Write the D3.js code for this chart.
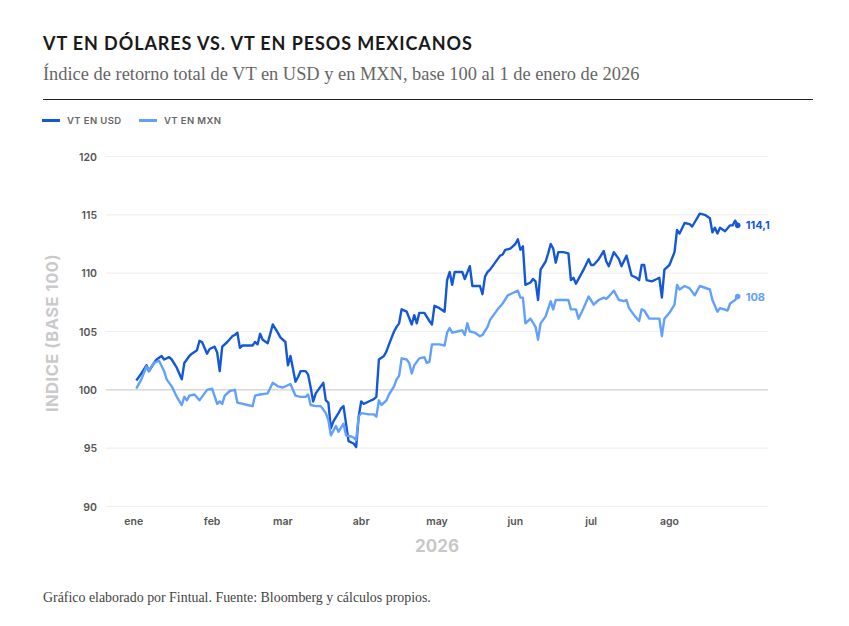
<!DOCTYPE html>
<html><head><meta charset="utf-8">
<script src="https://cdn.jsdelivr.net/npm/d3@7"></script>
<style>
body{margin:0;background:#fff;}
svg{display:block;}
</style></head>
<body><svg id="chart" width="849" height="626"></svg>
<script>
const monthLabels = ["ene","feb","mar","abr","may","jun","jul","ago"];
const yTicks = [90,95,100,105,110,115,120];

const usdDates = ["2026-01-02","2026-01-04","2026-01-06","2026-01-07","2026-01-09","2026-01-10","2026-01-12","2026-01-13","2026-01-15","2026-01-16","2026-01-18","2026-01-20","2026-01-21","2026-01-23","2026-01-24","2026-01-26","2026-01-27","2026-01-28","2026-01-30","2026-01-31",
"2026-02-02","2026-02-03","2026-02-04","2026-02-05","2026-02-07","2026-02-09","2026-02-10","2026-02-11","2026-02-12","2026-02-13","2026-02-15","2026-02-17","2026-02-18","2026-02-19","2026-02-20","2026-02-21","2026-02-23","2026-02-24","2026-02-25","2026-02-27","2026-02-28",
"2026-03-02","2026-03-03","2026-03-04","2026-03-06","2026-03-07","2026-03-08","2026-03-10","2026-03-11","2026-03-12","2026-03-13","2026-03-14","2026-03-16","2026-03-17","2026-03-18","2026-03-19","2026-03-20","2026-03-21","2026-03-23","2026-03-24","2026-03-25","2026-03-26","2026-03-27","2026-03-29","2026-03-30","2026-03-31",
"2026-04-01","2026-04-02","2026-04-04","2026-04-06","2026-04-07","2026-04-08","2026-04-10","2026-04-11","2026-04-12","2026-04-14","2026-04-15","2026-04-16","2026-04-17","2026-04-19","2026-04-21","2026-04-22","2026-04-23","2026-04-24","2026-04-26","2026-04-28","2026-04-29","2026-04-30",
"2026-05-02","2026-05-04","2026-05-05","2026-05-06","2026-05-07","2026-05-08","2026-05-11","2026-05-12","2026-05-14","2026-05-15","2026-05-18","2026-05-19","2026-05-20","2026-05-21","2026-05-22","2026-05-24","2026-05-26","2026-05-27","2026-05-28","2026-05-30","2026-05-31",
"2026-06-01","2026-06-02","2026-06-03","2026-06-04","2026-06-05","2026-06-07","2026-06-08","2026-06-09","2026-06-10","2026-06-11","2026-06-13","2026-06-14","2026-06-15","2026-06-16","2026-06-17","2026-06-18","2026-06-20","2026-06-22","2026-06-23","2026-06-24","2026-06-25","2026-06-27","2026-06-28","2026-06-30",
"2026-07-01","2026-07-02","2026-07-04","2026-07-06","2026-07-07","2026-07-08","2026-07-10","2026-07-12","2026-07-13","2026-07-15","2026-07-17","2026-07-19","2026-07-20","2026-07-21","2026-07-22","2026-07-23","2026-07-25","2026-07-27","2026-07-28","2026-07-29","2026-07-30",
"2026-08-01","2026-08-03","2026-08-04","2026-08-05","2026-08-07","2026-08-09","2026-08-10","2026-08-13","2026-08-15","2026-08-17","2026-08-18","2026-08-19","2026-08-20","2026-08-21","2026-08-23","2026-08-25","2026-08-26","2026-08-27","2026-08-28"];
const usdValues = [100.8,101.4,102.1,101.6,102.3,102.6,102.9,102.6,102.8,102.6,101.9,100.9,102.3,102.9,103.1,103.4,104.2,104.1,103.1,103.5,
103.7,103.2,101.6,103.7,104.1,104.6,104.7,104.9,103.6,103.8,103.8,103.8,104.1,103.9,104.8,104.3,104.0,104.8,105.6,104.9,104.5,
104.1,102.1,102.9,100.7,101.1,101.6,101.6,101.3,100.2,99.0,99.7,100.3,100.6,99.1,98.9,96.7,97.3,98.0,98.4,98.6,97.1,95.6,95.4,95.1,97.7,
99.0,98.8,99.0,99.2,99.4,102.6,102.9,103.3,103.9,105.0,105.4,105.7,106.9,106.7,105.6,106.4,105.7,106.6,106.6,105.9,105.6,107.2,
107.0,106.7,109.4,110.1,109.0,110.1,110.1,109.5,110.6,108.9,108.9,108.2,109.7,110.1,110.3,110.9,111.5,111.6,112.0,112.1,112.3,
112.5,112.9,112.0,112.3,109.0,109.2,109.5,109.3,107.7,110.3,111.0,111.7,112.5,112.1,110.9,111.8,111.8,111.7,109.4,109.6,109.1,109.9,110.3,111.2,
110.7,110.7,111.2,111.9,111.0,110.6,111.8,111.2,110.6,111.5,109.8,109.6,109.4,110.7,110.7,109.4,109.3,109.5,109.6,107.9,110.3,
110.7,111.8,113.7,113.4,114.3,114.2,114.0,115.1,115.0,114.7,113.5,113.9,113.4,113.9,113.6,114.1,114.1,114.5,114.1];

const mxnDates = ["2026-01-02","2026-01-04","2026-01-06","2026-01-07","2026-01-08","2026-01-09","2026-01-11","2026-01-13","2026-01-14","2026-01-16","2026-01-18","2026-01-20","2026-01-21","2026-01-22","2026-01-23","2026-01-25","2026-01-27","2026-01-28","2026-01-30",
"2026-02-01","2026-02-03","2026-02-04","2026-02-05","2026-02-06","2026-02-08","2026-02-10","2026-02-11","2026-02-15","2026-02-17","2026-02-18","2026-02-20","2026-02-23","2026-02-25","2026-02-27",
"2026-03-01","2026-03-04","2026-03-06","2026-03-08","2026-03-10","2026-03-11","2026-03-12","2026-03-14","2026-03-16","2026-03-18","2026-03-19","2026-03-20","2026-03-22","2026-03-23","2026-03-25","2026-03-26","2026-03-28","2026-03-29","2026-03-30","2026-03-31",
"2026-04-01","2026-04-04","2026-04-06","2026-04-07","2026-04-08","2026-04-09","2026-04-11","2026-04-12","2026-04-14","2026-04-15","2026-04-16","2026-04-17","2026-04-19","2026-04-20","2026-04-21","2026-04-22","2026-04-23","2026-04-24","2026-04-26","2026-04-27","2026-04-28","2026-04-29",
"2026-05-02","2026-05-04","2026-05-05","2026-05-06","2026-05-07","2026-05-09","2026-05-11","2026-05-12","2026-05-13","2026-05-14","2026-05-16","2026-05-18","2026-05-19","2026-05-21","2026-05-22","2026-05-23","2026-05-25","2026-05-27","2026-05-29","2026-05-31",
"2026-06-02","2026-06-03","2026-06-04","2026-06-05","2026-06-06","2026-06-07","2026-06-09","2026-06-10","2026-06-11","2026-06-13","2026-06-15","2026-06-16","2026-06-17","2026-06-22","2026-06-23","2026-06-25","2026-06-26","2026-06-28","2026-06-30",
"2026-07-02","2026-07-04","2026-07-06","2026-07-07","2026-07-08","2026-07-10","2026-07-11","2026-07-12","2026-07-14","2026-07-15","2026-07-16","2026-07-18","2026-07-20","2026-07-21","2026-07-22","2026-07-24","2026-07-27","2026-07-28","2026-07-29","2026-07-30",
"2026-08-01","2026-08-03","2026-08-04","2026-08-05","2026-08-07","2026-08-09","2026-08-11","2026-08-13","2026-08-17","2026-08-18","2026-08-20","2026-08-21","2026-08-24","2026-08-25","2026-08-27","2026-08-28"];
const mxnValues = [100.1,100.9,102.0,101.6,102.0,102.3,102.5,101.6,100.9,100.3,99.4,98.7,99.4,99.1,99.5,99.6,99.1,99.4,100.0,
100.1,98.8,99.0,98.8,99.5,99.9,100.0,98.9,98.7,98.6,99.5,99.6,99.7,100.6,100.3,
100.2,100.5,99.5,99.4,99.4,99.6,98.7,98.6,98.6,98.0,97.4,96.1,96.9,96.4,97.1,96.1,96.0,95.9,95.7,97.7,
98.0,97.9,97.9,97.7,99.1,98.7,99.1,99.6,100.3,100.9,101.2,102.7,102.6,102.3,101.4,102.1,102.4,102.7,102.8,102.3,102.4,103.9,
103.9,103.8,104.9,105.3,104.9,105.0,105.1,104.7,105.7,105.0,104.9,104.6,104.7,105.4,106.0,106.3,106.9,107.4,108.1,108.3,
108.5,107.9,107.9,105.7,105.9,106.1,105.4,104.3,105.7,106.3,107.6,106.9,107.7,107.7,106.9,106.9,106.1,107.0,108.0,
107.3,107.7,107.9,107.8,108.0,108.5,108.1,107.7,107.6,107.7,107.0,106.4,105.9,106.9,106.8,106.1,106.1,106.1,104.6,106.1,
106.6,107.3,109.0,108.6,108.9,108.7,108.1,108.9,108.6,107.7,106.7,107.0,106.8,107.4,107.7,108.0];

const seriesNames = ["VT EN USD","VT EN MXN"];
const seriesColors = ["#1558d6","#62a1fb"];

const parse = d3.utcParse("%Y-%m-%d");
const series = [
  {name: seriesNames[0], color: seriesColors[0], data: usdDates.map((d,i)=>({date: parse(d), value: usdValues[i]}))},
  {name: seriesNames[1], color: seriesColors[1], data: mxnDates.map((d,i)=>({date: parse(d), value: mxnValues[i]}))}
];

const svg = d3.select("#chart");
const x = d3.scaleUtc().domain([Date.UTC(2025,11,21), Date.UTC(2026,8,9)]).range([106, 768]);
const y = d3.scaleLinear().domain([90,120]).range([506.5,156.5]);

// Title
svg.append("text").attr("x",43).attr("y",50)
  .attr("font-family","Lato, 'Open Sans', sans-serif").attr("font-weight",700).attr("font-size",18)
  .attr("letter-spacing","0.9px").attr("fill","#1a1a1a")
  .text("VT EN DÓLARES VS. VT EN PESOS MEXICANOS");
svg.append("text").attr("x",43).attr("y",80)
  .attr("font-family","'Liberation Serif', 'DejaVu Serif', serif").attr("font-size",18.4)
  .attr("fill","#666")
  .text("Índice de retorno total de VT en USD y en MXN, base 100 al 1 de enero de 2026");
svg.append("line").attr("x1",43).attr("x2",813).attr("y1",99.5).attr("y2",99.5)
  .attr("stroke","#222").attr("stroke-width",1);

// Legend
const legend = svg.append("g");
const legendX = [42, 139];
series.forEach((s,i)=>{
  legend.append("line").attr("x1",legendX[i]).attr("x2",legendX[i]+18).attr("y1",120.5).attr("y2",120.5)
    .attr("stroke",s.color).attr("stroke-width",3);
  legend.append("text").attr("x",legendX[i]+25).attr("y",124)
    .attr("font-family","Inter, Lato, sans-serif").attr("font-weight",600).attr("font-size",9.5)
    .attr("letter-spacing","0.4px").attr("fill","#666").text(s.name);
});

// Grid + y labels
const yAxis = svg.append("g");
yTicks.forEach(t=>{
  yAxis.append("line").attr("x1",106).attr("x2",768).attr("y1",y(t)).attr("y2",y(t))
    .attr("stroke", t===100 ? "#cfcfcf" : "#efefef").attr("stroke-width", t===100 ? 1.3 : 1.2);
  yAxis.append("text").attr("x",97).attr("y",y(t)+4).attr("text-anchor","end")
    .attr("font-family","Inter, Lato, sans-serif").attr("font-weight",600).attr("font-size",10.5)
    .attr("fill","#555").text(t);
});

// X labels
const months = d3.utcMonths(Date.UTC(2026,0,1), Date.UTC(2026,8,1));
months.forEach((m,i)=>{
  svg.append("text").attr("x",x(m)).attr("y",525).attr("text-anchor","middle")
    .attr("font-family","Inter, Lato, sans-serif").attr("font-weight",600).attr("font-size",10.5)
    .attr("fill","#555").text(monthLabels[i]);
});

// axis titles
svg.append("text").attr("x",437).attr("y",552).attr("text-anchor","middle")
  .attr("font-family","Inter, Lato, sans-serif").attr("font-weight",700).attr("font-size",17)
  .attr("fill","#c8c8c8").text("2026");
svg.append("text").attr("transform","translate(58,333) rotate(-90)").attr("text-anchor","middle")
  .attr("font-family","Inter, Lato, sans-serif").attr("font-weight",700).attr("font-size",16.5)
  .attr("letter-spacing","0.5px").attr("fill","#cacaca").text("INDICE (BASE 100)");

// Lines
const line = d3.line().x(d=>x(d.date)).y(d=>y(d.value));
const fmt = v => d3.format(".1f")(v).replace(/\.0$/,"").replace(".",",");
series.forEach(s=>{
  svg.append("path").datum(s.data).attr("d",line).attr("fill","none")
    .attr("stroke",s.color).attr("stroke-width",2.4).attr("stroke-linejoin","round");
  const last = s.data[s.data.length-1];
  svg.append("circle").attr("cx",x(last.date)).attr("cy",y(last.value)).attr("r",2.8).attr("fill",s.color);
  svg.append("text").attr("x",x(last.date)+8).attr("y",y(last.value)+4)
    .attr("font-family","Inter, Lato, sans-serif").attr("font-weight",700).attr("font-size",11)
    .attr("fill",s.color).text(fmt(last.value));
});

// Footer
svg.append("text").attr("x",43).attr("y",602)
  .attr("font-family","'Liberation Serif', 'DejaVu Serif', serif").attr("font-size",13.9)
  .attr("fill","#444")
  .text("Gráfico elaborado por Fintual. Fuente: Bloomberg y cálculos propios.");
</script></body></html>
